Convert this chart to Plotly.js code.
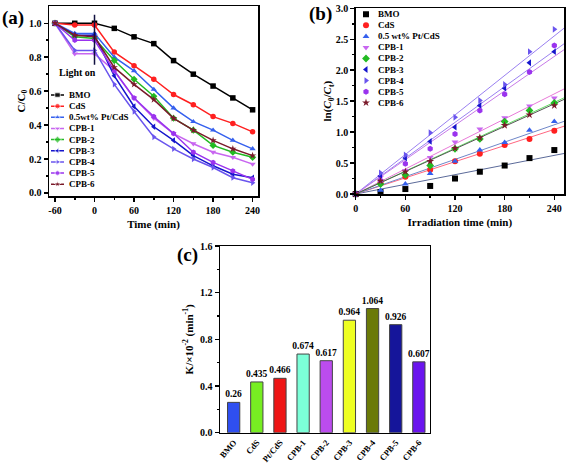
<!DOCTYPE html>
<html><head><meta charset="utf-8">
<script src="https://cdn.plot.ly/plotly-3.0.1.min.js"></script>
<style>html,body{margin:0;padding:0;background:#fff}#chart{width:567px;height:464px}</style>
</head><body><div id="chart"></div>
<script>
// ---------- data ----------
const namesA = ['BMO','CdS','0.5wt% Pt/CdS','CPB-1','CPB-2','CPB-3','CPB-4','CPB-5','CPB-6'];
const namesB = ['BMO','CdS','0.5 wt% Pt/CdS','CPB-1','CPB-2','CPB-3','CPB-4','CPB-5','CPB-6'];
const barLabels = ['BMO','CdS','Pt/CdS','CPB-1','CPB-2','CPB-3','CPB-4','CPB-5','CPB-6'];

// (a) C/C0 vs time
const timeA = [-60,-30,0,30,60,90,120,150,180,210,240];
const ccBMO  = [1.00,1.00,1.00,0.97,0.92,0.88,0.78,0.70,0.63,0.56,0.49];
const ccCdS  = [1.00,0.99,0.99,0.83,0.75,0.67,0.58,0.52,0.45,0.41,0.36];
const ccPt   = [1.00,0.94,0.94,0.80,0.72,0.61,0.50,0.42,0.37,0.31,0.26];
const ccCPB1 = [1.00,0.82,0.82,0.72,0.56,0.44,0.35,0.29,0.24,0.21,0.17];
const ccCPB2 = [1.00,0.92,0.91,0.78,0.67,0.57,0.44,0.37,0.28,0.24,0.21];
const ccCPB3 = [1.00,0.93,0.93,0.69,0.51,0.39,0.31,0.22,0.16,0.11,0.09];
const ccCPB4 = [1.00,0.84,0.84,0.64,0.48,0.33,0.26,0.20,0.15,0.09,0.06];
const ccCPB5 = [1.00,0.90,0.90,0.72,0.56,0.45,0.35,0.24,0.18,0.13,0.08];
const ccCPB6 = [1.00,0.93,0.92,0.74,0.64,0.55,0.44,0.37,0.31,0.26,0.22];

// (b) ln(C0/Ct) vs irradiation time
const timeB = [0,30,60,90,120,150,180,210,240];
const lnBMO  = [0,0.03,0.08,0.13,0.25,0.36,0.46,0.58,0.71];
const lnCdS  = [0,0.18,0.28,0.39,0.53,0.65,0.79,0.89,1.02];
const lnPt   = [0,0.06,0.16,0.33,0.53,0.71,0.83,1.03,1.17];
const lnCPB1 = [0,0.27,0.38,0.59,0.84,1.05,1.23,1.42,1.55];
const lnCPB2 = [0,0.16,0.31,0.46,0.73,0.89,1.17,1.35,1.47];
const lnCPB3 = [0,0.29,0.58,0.85,1.08,1.43,1.71,2.12,2.30];
const lnCPB4 = [0,0.34,0.63,0.99,1.24,1.51,1.77,2.30,2.66];
const lnCPB5 = [0,0.22,0.49,0.73,0.97,1.35,1.61,1.97,2.40];
const lnCPB6 = [0,0.21,0.36,0.53,0.74,0.91,1.11,1.28,1.43];
const fitTime = [0,252];

// (c) rate constants K (x10^-2 min^-1)
const kValues = [0.26,0.435,0.466,0.674,0.617,0.964,1.064,0.926,0.607];
const kText   = ['0.26','0.435','0.466','0.674','0.617','0.964','1.064','0.926','0.607'];

// ---------- styles ----------
const ccData = [ccBMO,ccCdS,ccPt,ccCPB1,ccCPB2,ccCPB3,ccCPB4,ccCPB5,ccCPB6];
const lnData = [lnBMO,lnCdS,lnPt,lnCPB1,lnCPB2,lnCPB3,lnCPB4,lnCPB5,lnCPB6];
const colors = ['#000000','#ff2020','#3560ee','#c866f0','#22bb22','#1515cc','#6a55ee','#9a33ee','#7a1a2a'];
const fitColors = ['#5b6a99','#ff6680','#6f86c8','#e87ad8','#66e066','#9a80f0','#9a80f0','#c77ae8','#555555'];
const symbols = ['square','circle','triangle-up','triangle-down','diamond','triangle-left','triangle-right','hexagon','star'];
const barColors = ['#2f4ff0','#77ee22','#ee1515','#7cffd8','#bb4cee','#eeff22','#6b7a08','#15159a','#6a14ee'];

const F = 'Liberation Serif, Times New Roman, serif';
const tickFont = {family:F, size:10, color:'#000'};
const titleFont = {family:F, size:11, color:'#000'};
const B = s => '<b>'+s+'</b>';

const traces = [];
// (a)
ccData.forEach((d,i)=>{
  traces.push({x:timeA, y:d, xaxis:'x', yaxis:'y', mode:'lines+markers', showlegend:false,
    line:{color:colors[i], width:1.5}, marker:{symbol:symbols[i], size:5.5, color:colors[i]}, cliponaxis:false});
});
// (b) fits then points
kValues.forEach((k,i)=>{
  traces.push({x:fitTime, y:fitTime.map(t=>k/100*t), xaxis:'x2', yaxis:'y2', mode:'lines', showlegend:false,
    line:{color:fitColors[i], width:1}});
});
lnData.forEach((d,i)=>{
  traces.push({x:timeB, y:d, xaxis:'x2', yaxis:'y2', mode:'markers', showlegend:false,
    marker:{symbol:symbols[i], size:6, color:colors[i]}, cliponaxis:false});
});
// (c)
traces.push({type:'bar', x:barLabels, y:kValues, xaxis:'x3', yaxis:'y3', showlegend:false, width:0.53,
  marker:{color:barColors, line:{color:'#444', width:1}},
  text:kText.map(B), textposition:'outside', constraintext:'none', textfont:{family:F, size:9.5, color:'#000'}, cliponaxis:false});

// custom legends
namesA.forEach((n,i)=>{
  traces.push({x:[0,6.5,13], y:[i,i,i], xaxis:'x4', yaxis:'y4', mode:'lines+markers', showlegend:false,
    line:{color:colors[i], width:1.5}, marker:{symbol:symbols[i], size:[0,5.5,0], color:colors[i]}});
});
namesB.forEach((n,i)=>{
  traces.push({x:[5], y:[i], xaxis:'x5', yaxis:'y5', mode:'markers', showlegend:false,
    marker:{symbol:symbols[i], size:6, color:colors[i]}});
});

const annotations = [];
namesA.forEach((n,i)=>annotations.push({xref:'x4', yref:'y4', x:16, y:i, text:B(n), showarrow:false, xanchor:'left', yanchor:'middle', font:{family:F,size:9,color:'#000'}}));
namesB.forEach((n,i)=>annotations.push({xref:'x5', yref:'y5', x:15, y:i, text:B(n), showarrow:false, xanchor:'left', yanchor:'middle', font:{family:F,size:9,color:'#000'}}));
annotations.push({xref:'x', yref:'y', x:0, y:0.71, text:B('Light on'), showarrow:false, xanchor:'right', xshift:3, font:{family:F,size:10,color:'#000'}});
annotations.push({xref:'paper', yref:'paper', x:13/567, y:1-18/464, xanchor:'center', yanchor:'middle', text:B('(a)'), showarrow:false, font:{family:F,size:19,color:'#000'}});
annotations.push({xref:'paper', yref:'paper', x:320/567, y:1-14/464, xanchor:'center', yanchor:'middle', text:B('(b)'), showarrow:false, font:{family:F,size:19,color:'#000'}});
annotations.push({xref:'paper', yref:'paper', x:187.5/567, y:1-255/464, xanchor:'center', yanchor:'middle', text:B('(c)'), showarrow:false, font:{family:F,size:19,color:'#000'}});

const baseAx = {showline:true, linewidth:1.5, linecolor:'#000', mirror:true, ticks:'outside', ticklen:4, tickwidth:1.5,
  tickcolor:'#000', showgrid:false, zeroline:false, tickfont:tickFont, automargin:false, fixedrange:true};
const hidden = {visible:false, fixedrange:true, showgrid:false, zeroline:false};

const layout = {
  width:567, height:464, margin:{l:0,r:0,t:0,b:0}, paper_bgcolor:'#fff', plot_bgcolor:'rgba(0,0,0,0)',
  showlegend:false, font:{family:F, color:'#000'},
  xaxis: Object.assign({}, baseAx, {domain:[49/567, 258/567], anchor:'y', range:[-69.1,248.2], tickvals:[-60,0,60,120,180,240],
    ticktext:['-60','0','60','120','180','240'].map(B), minor:{tickvals:[-30,30,90,150,210], ticks:'outside', ticklen:2, tickcolor:'#000'},
    title:{text:B('Time (min)'), font:titleFont, standoff:6}}),
  yaxis: Object.assign({}, baseAx, {domain:[1-196/464, 1-6.3/464], anchor:'x', range:[-0.018,1.1], tickvals:[0,0.2,0.4,0.6,0.8,1.0],
    ticktext:['0.0','0.2','0.4','0.6','0.8','1.0'].map(B), minor:{tickvals:[0.1,0.3,0.5,0.7,0.9], ticks:'outside', ticklen:2, tickcolor:'#000'},
    title:{text:B('C/C<sub>0</sub>'), font:titleFont, standoff:0}}),
  xaxis2: Object.assign({}, baseAx, {domain:[355.7/567, 564/567], anchor:'y2', range:[0,251.7], tickvals:[0,60,120,180,240],
    ticktext:['0','60','120','180','240'].map(B), minor:{tickvals:[30,90,150,210], ticks:'outside', ticklen:2, tickcolor:'#000'},
    title:{text:B('Irradiation time (min)'), font:titleFont, standoff:6}}),
  yaxis2: Object.assign({}, baseAx, {domain:[1-194/464, 1-8.3/464], anchor:'x2', range:[0,3], tickvals:[0,0.5,1,1.5,2,2.5,3],
    ticktext:['0.0','0.5','1.0','1.5','2.0','2.5','3.0'].map(B), minor:{tickvals:[0.25,0.75,1.25,1.75,2.25,2.75], ticks:'outside', ticklen:2, tickcolor:'#000'},
    title:{text:B('ln(<i>C</i><sub>0</sub>/<i>C</i><sub>t</sub>)'), font:titleFont, standoff:1}}),
  xaxis3: Object.assign({}, baseAx, {domain:[220/567, 429.5/567], anchor:'y3', range:[-0.59,8.46], type:'category',
    tickvals:barLabels, ticktext:barLabels.map(B), tickangle:-50, tickfont:{family:F,size:8.5,color:'#000'}, ticks:''}),
  yaxis3: Object.assign({}, baseAx, {domain:[1-432.7/464, 1-246/464], anchor:'x3', range:[0,1.6], tickvals:[0,0.4,0.8,1.2,1.6],
    ticktext:['0.0','0.4','0.8','1.2','1.6'].map(B), minor:{tickvals:[0.2,0.6,1.0,1.4], ticks:'outside', ticklen:2, tickcolor:'#000'},
    title:{text:B('K/×10<sup>-2</sup> (min<sup>-1</sup>)'), font:titleFont, standoff:4}}),
  xaxis4: Object.assign({}, hidden, {domain:[51/567, 151/567], anchor:'y4', range:[0,100]}),
  yaxis4: Object.assign({}, hidden, {domain:[1-189.8/464, 1-89.4/464], anchor:'x4', range:[8.5,-0.5]}),
  xaxis5: Object.assign({}, hidden, {domain:[361/567, 461/567], anchor:'y5', range:[0,100]}),
  yaxis5: Object.assign({}, hidden, {domain:[1-108.2/464, 1-8.8/464], anchor:'x5', range:[8.5,-0.5]}),
  shapes:[{type:'line', xref:'x', yref:'y', x0:0, x1:0, y0:0.755, y1:1.05, line:{color:'#101040', width:1.5}}],
  annotations: annotations
};
Plotly.newPlot('chart', traces, layout, {staticPlot:true, displayModeBar:false});
</script>
</body></html>
